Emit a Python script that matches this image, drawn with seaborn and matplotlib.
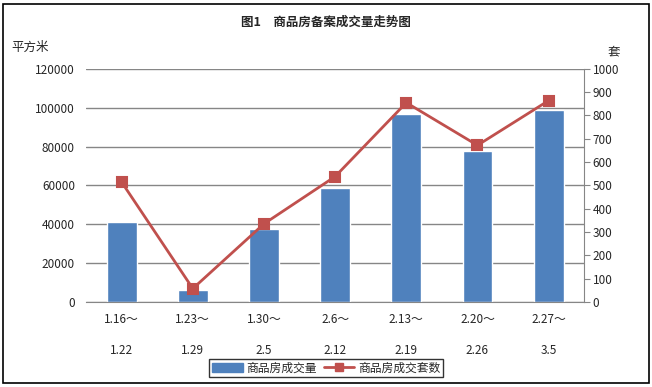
import pandas as pd
import numpy as np
import matplotlib
matplotlib.use('Agg')
import matplotlib.pyplot as plt
import seaborn as sns
from matplotlib.lines import Line2D
from matplotlib.patches import Patch, Rectangle

# data
weeks_start = ['1.16～', '1.23～', '1.30～', '2.6～', '2.13～', '2.20～', '2.27～']
weeks_end = ['1.22', '1.29', '2.5', '2.12', '2.19', '2.26', '3.5']
area_sqm = [41200, 6200, 37600, 58900, 96800, 77800, 98900]
units_sold = [514, 57, 335, 538, 855, 672, 864]

labels = [a + '\n\n' + b for a, b in zip(weeks_start, weeks_end)]
df = pd.DataFrame({'week': labels, 'area': area_sqm, 'units': units_sold})

sns.set_style('white')
plt.rcParams['font.family'] = ['Noto Sans CJK SC', 'DejaVu Sans']

blue = '#4f81bd'
red = '#c0504d'
grid = '#868686'

fig, ax = plt.subplots(figsize=(6.52, 3.87), dpi=100)
fig.subplots_adjust(left=0.132, right=0.896, top=0.822, bottom=0.220)

sns.barplot(data=df, x='week', y='area', color=blue, width=0.42,
            saturation=1, ax=ax, zorder=2)
ax.set_ylim(0, 120000)
ax.set_yticks(np.arange(0, 120001, 20000))
ax.yaxis.grid(True, color=grid, lw=1)
ax.set_axisbelow(True)
ax.set_xlabel('')
ax.set_ylabel('')
for s in ['top', 'left', 'right']:
    ax.spines[s].set_visible(False)
ax.spines['bottom'].set_color(grid)
ax.tick_params(axis='y', length=0, labelsize=8.5, pad=8)
ax.tick_params(axis='x', length=0, labelsize=8.5, pad=8)
for t in ax.get_xticklabels():
    t.set_linespacing(1.25)

ax2 = ax.twinx()
sns.pointplot(data=df, x='week', y='units', color=red, marker='s',
              markersize=7, linewidth=2, ax=ax2)
ax2.set_ylim(0, 1000)
ax2.set_yticks(np.arange(0, 1001, 100))
ax2.set_ylabel('')
ax2.set_xlabel('')
for s in ['top', 'left', 'bottom']:
    ax2.spines[s].set_visible(False)
ax2.spines['right'].set_color(grid)
ax2.tick_params(axis='y', length=4, color=grid, labelsize=8.5, pad=2)

fig.text(0.5, 0.943, '图1　商品房备案成交量走势图', ha='center', va='center',
         fontsize=9, fontweight='bold')
fig.text(0.018, 0.877, '平方米', ha='left', va='center', fontsize=9)
fig.text(0.942, 0.866, '套', ha='center', va='center', fontsize=9)

handles = [Patch(facecolor=blue, edgecolor=blue),
           Line2D([0], [0], color=red, lw=2, marker='s', markersize=6)]
leg = fig.legend(handles, ['商品房成交量', '商品房成交套数'], loc='center',
                 bbox_to_anchor=(0.5, 0.049), ncol=2, fontsize=8.5,
                 frameon=True, fancybox=False, handlelength=2.6,
                 handletextpad=0.3, columnspacing=0.6, borderpad=0.25)
leg.get_frame().set_edgecolor('black')
leg.get_frame().set_linewidth(1)

fig.patches.append(Rectangle((0.005, 0.01), 0.99, 0.98, transform=fig.transFigure,
                             fill=False, edgecolor='black', lw=1.2))

fig.savefig('out.png', dpi=100)
